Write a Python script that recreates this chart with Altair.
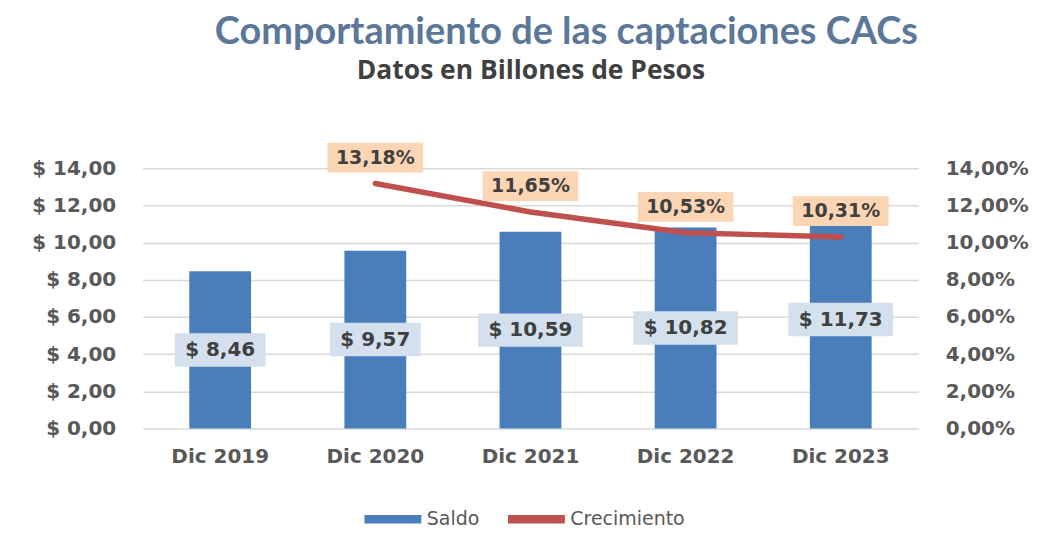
import altair as alt
import pandas as pd

periodos = ["Dic 2019", "Dic 2020", "Dic 2021", "Dic 2022", "Dic 2023"]
saldo = [8.46, 9.57, 10.59, 10.82, 11.73]
crecimiento = [None, 13.18, 11.65, 10.53, 10.31]
series = ["Saldo", "Crecimiento"]
ticks_saldo = [0, 2, 4, 6, 8, 10, 12, 14]
ticks_crec = [0, 2, 4, 6, 8, 10, 12, 14]

df = pd.DataFrame({"periodo": periodos, "saldo": saldo, "crec": crecimiento})

FONT = "DejaVu Sans"
LABEL_GRAY = "#595959"
TEXT_DARK = "#404040"

color = alt.Color(
    "serie:N",
    scale=alt.Scale(domain=series, range=["#4a7ebb", "#c0504d"]),
    legend=alt.Legend(
        title=None, orient="none", legendX=222, legendY=323, direction="horizontal",
        symbolType="M-1,-0.15L1,-0.15L1,0.15L-1,0.15Z", symbolSize=3250,
        symbolStrokeWidth=0, labelFont=FONT, labelFontSize=19, labelColor=LABEL_GRAY,
        labelOffset=5, columnPadding=28,
    ),
)

ax_bottom = alt.Axis(title=None, labelAngle=0, labelFont=FONT, labelFontSize=20,
                     labelFontWeight="bold", labelColor=LABEL_GRAY, labelPadding=18,
                     domain=False, ticks=False, grid=False)
ax_top = alt.Axis(orient="top", title="Datos en Billones de Pesos", labels=False,
                  ticks=False, domain=False, grid=False, titleFont="Open Sans",
                  titleFontSize=26.5, titleFontWeight="bold", titleColor=TEXT_DARK,
                  titlePadding=84)
x_scale = alt.Scale(paddingInner=0, paddingOuter=0)

def xb():
    return alt.X("periodo:N", sort=periodos, scale=x_scale, axis=ax_bottom)

def xt():
    return alt.X("periodo:N", sort=periodos, scale=x_scale, axis=ax_top)

ax_left = alt.Axis(values=ticks_saldo, title=None,
                   labelExpr="'$ ' + replace(format(datum.value, '.2f'), '.', ',')",
                   labelFont=FONT, labelFontSize=20, labelFontWeight="bold",
                   labelColor=LABEL_GRAY, labelPadding=27, domain=False, ticks=False,
                   grid=True, gridColor="#d9d9d9", gridWidth=1.5)
ax_right = alt.Axis(orient="right", values=ticks_crec, title=None,
                    labelExpr="replace(format(datum.value, '.2f'), '.', ',') + '%'",
                    labelFont=FONT, labelFontSize=20, labelFontWeight="bold",
                    labelColor=LABEL_GRAY, labelPadding=27, domain=False, ticks=False,
                    grid=False)
y_scale = alt.Scale(domain=[0, 14])

def yl(field):
    return alt.Y(field, scale=y_scale, axis=ax_left, title=None)

def yr(field):
    return alt.Y(field, scale=y_scale, axis=ax_right, title=None)

base = alt.Chart(df)

bars = base.transform_calculate(serie="'Saldo'").mark_bar(size=62).encode(
    x=xb(), y=yl("saldo:Q"), color=color
)

lbl_base = base.transform_calculate(
    lbl="'$ ' + replace(format(datum.saldo, '.2f'), '.', ',')",
    w="length(datum.lbl) * 14 + 7",
    mid="datum.saldo / 2",
    lo="datum.saldo / 2 - 0.9",
    hi="datum.saldo / 2 + 0.9",
)
box1 = lbl_base.mark_bar(color="#d4e0ed").encode(
    x=xb(), y=yl("lo:Q"), y2="hi:Q",
    size=alt.Size("w:Q", scale=None, legend=None),
)
text1 = lbl_base.mark_text(font=FONT, fontSize=20, fontWeight="bold", color=TEXT_DARK).encode(
    x=xb(), y=yl("mid:Q"), text="lbl:N"
)

line = base.transform_filter("isValid(datum.crec)").transform_calculate(
    serie="'Crecimiento'"
).mark_line(strokeWidth=5.5, strokeCap="round", strokeJoin="round").encode(
    x=xt(), y=yr("crec:Q"), color=color
)

pct_base = base.transform_filter("isValid(datum.crec)").transform_calculate(
    lbl="replace(format(datum.crec, '.2f'), '.', ',') + '%'",
    lo="datum.crec + 0.59",
    hi="datum.crec + 2.19",
)
box2 = pct_base.mark_bar(size=96, color="#fcd5b4").encode(
    x=xt(), y=yr("lo:Q"), y2="hi:Q"
)
text2 = pct_base.mark_text(font=FONT, fontSize=19, fontWeight="bold", color=TEXT_DARK, dy=-26).encode(
    x=xt(), y=yr("crec:Q"), text="lbl:N"
)

left = alt.layer(bars, box1, text1)
right = alt.layer(line, box2, text2)

chart = alt.layer(left, right).resolve_scale(y="independent").resolve_axis(
    x="independent"
).properties(
    width=778, height=261,
    autosize="none",
    padding={"left": 135, "top": 160, "right": 112, "bottom": 106},
    title=alt.TitleParams(
        text="Comportamiento de las captaciones CACs", font="Lato", fontSize=38,
        fontWeight="bold", color="#5b7799", anchor="middle", dx=36, offset=6,
    ),
).configure(background="white").configure_view(stroke=None)

chart.save("out.html", embed_options={"renderer": "svg", "actions": False})
